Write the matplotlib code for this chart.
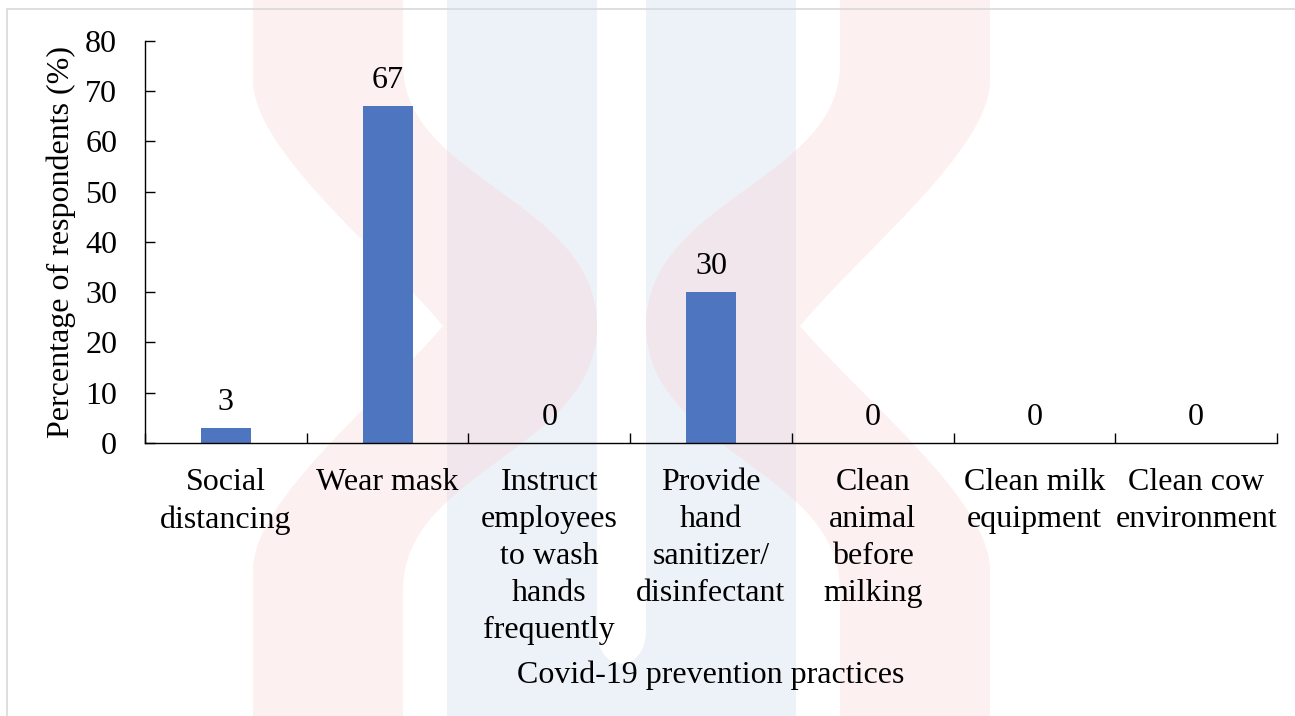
import numpy as np
import matplotlib
matplotlib.use('Agg')
from matplotlib import pyplot as plt
from matplotlib.path import Path
from matplotlib.patches import PathPatch, Rectangle

practices = ['Social\ndistancing', 'Wear mask',
             'Instruct\nemployees\nto wash\nhands\nfrequently',
             'Provide\nhand\nsanitizer/\ndisinfectant',
             'Clean\nanimal\nbefore\nmilking',
             'Clean milk\nequipment', 'Clean cow\nenvironment']
percent = [3, 67, 0, 30, 0, 0, 0]
y_ticks = [0, 10, 20, 30, 40, 50, 60, 70, 80]

W, H = 1295, 716
plt.rcParams['font.family'] = ['Liberation Serif', 'DejaVu Serif']
plt.rcParams['font.size'] = 23

fig = plt.figure(figsize=(W / 100, H / 100), dpi=100)


def px(pts):
    # pixel coords (y down) -> figure fraction
    return [(x / W, 1 - y / H) for x, y in pts]


M, L, C, Z = Path.MOVETO, Path.LINETO, Path.CURVE4, Path.CLOSEPOLY


def add_shape(pts, codes, color, alpha=1.0):
    patch = PathPatch(Path(px(pts), codes), transform=fig.transFigure,
                      facecolor=color, edgecolor='none', alpha=alpha, zorder=0)
    fig.add_artist(patch)


# faint watermark behind the chart
blue_pts = [(447, 0), (447, 716), (796, 716), (796, 0), (646, 0), (646, 630),
            (646, 675), (597, 675), (597, 630), (597, 0), (447, 0)]
blue_codes = [M, L, L, L, L, L, C, C, C, L, Z]
add_shape(blue_pts, blue_codes, '#edf2f8')

red_left = [(253, 0), (253, 80), (253, 150), (380, 250), (443, 326),
            (380, 400), (253, 500), (253, 570), (253, 716), (403, 716),
            (403, 590), (403, 470), (597, 450), (597, 326),
            (597, 200), (403, 180), (403, 65), (403, 0), (253, 0)]
red_codes = [M, L, C, C, C, C, C, C, L, L, L, C, C, C, C, C, C, L, Z]
add_shape(red_left, red_codes, '#fac8c8', 0.27)
red_right = [(1243 - x, y) for x, y in red_left]
add_shape(red_right, red_codes, '#fac8c8', 0.27)

fig.add_artist(Rectangle((7 / W, -0.05), 1.1, 1 - 9 / H + 0.05,
                         transform=fig.transFigure, fill=False,
                         edgecolor='#d9d9d9', lw=1.2, zorder=1))

ax = fig.add_axes([145 / W, 1 - 443 / H, 1132 / W, 402.3 / H])
ax.patch.set_alpha(0)

x = np.arange(len(practices))
bars = ax.bar(x, percent, width=0.31, color='#4e76c0', zorder=2)
ax.bar_label(bars, padding=8, fontsize=23)

ax.set_xlim(-0.5, len(practices) - 0.5)
ax.set_ylim(0, 80)
ax.set_yticks(y_ticks)
ax.tick_params(axis='y', direction='in', length=7, width=1, pad=20)

ax.set_xticks(np.arange(len(practices) + 1) - 0.5)
ax.set_xticklabels([])
ax.tick_params(axis='x', which='major', direction='in', length=7, width=1)
ax.set_xticks(x, minor=True)
ax.set_xticklabels(practices, minor=True, linespacing=1.36)
ax.tick_params(axis='x', which='minor', length=0, pad=18)

ax.spines['top'].set_visible(False)
ax.spines['right'].set_visible(False)
ax.spines['left'].set_linewidth(1)
ax.spines['bottom'].set_linewidth(1)

ax.set_ylabel('Percentage of respondents (%)')
ax.yaxis.set_label_coords(-0.061, 0.5)
ax.set_xlabel('Covid-19 prevention practices')
ax.xaxis.set_label_coords(0.5, -0.541)

fig.savefig('out.png', dpi=100)
